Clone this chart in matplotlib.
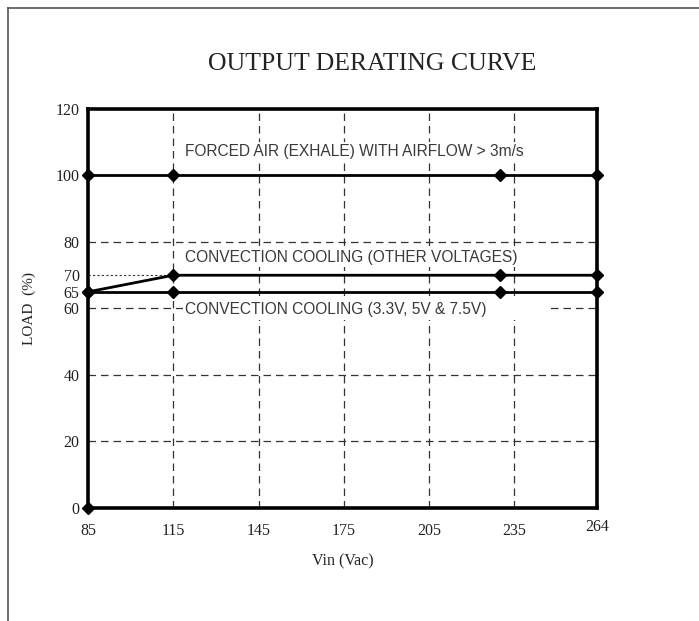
import matplotlib
matplotlib.use("Agg")
import matplotlib.pyplot as plt
import matplotlib.transforms as mtransforms
from matplotlib.lines import Line2D
from matplotlib.patches import Rectangle

# données
vin_ticks = [85, 115, 145, 175, 205, 235, 264]
load_ticks = [0, 20, 40, 60, 65, 70, 80, 100, 120]

forced_vin = [85, 115, 230, 264]
forced_load = [100, 100, 100, 100]

other_vin = [85, 115, 230, 264]
other_load = [65, 70, 70, 70]

low_vin = [85, 115, 230, 264]
low_load = [65, 65, 65, 65]

zero_vin = [85]
zero_load = [0]

grid_x = [115, 145, 175, 205, 235]
grid_y = [20, 40, 60, 80]

fig = plt.figure(figsize=(6.99, 6.21), dpi=100)
ax = fig.add_axes([0.1259, 0.182, 0.728, 0.6425])

serif = "Liberation Serif"
sans = "Liberation Sans"
dash = (0, (6, 4))

# cadre extérieur (haut + gauche)
fig.add_artist(Line2D([8 / 699, 1.0], [1 - 8 / 621, 1 - 8 / 621], color="#555555", lw=1.2))
fig.add_artist(Line2D([8 / 699, 8 / 699], [0, 1 - 8 / 621], color="#555555", lw=1.2))

for gx in grid_x:
    ax.axvline(gx, color="#333333", lw=0.9, linestyle=dash, zorder=1)
for gy in grid_y:
    ax.axhline(gy, color="#333333", lw=0.9, linestyle=dash, zorder=1)

# pointillé 70 % entre 85 et 115
ax.plot([85, 115], [70, 70], color="#333333", lw=0.8, linestyle=(0, (2, 2)), zorder=1)

# cache blanc sous le texte du bas
ax.add_patch(Rectangle((118.3, 56.5), 129.5, 6.6, facecolor="white", edgecolor="none", zorder=2))

line_kw = dict(color="black", lw=2.0, marker="D", markersize=6.5, zorder=4, clip_on=False)
ax.plot(forced_vin, forced_load, **line_kw)
ax.plot(other_vin, other_load, **line_kw)
ax.plot(low_vin, low_load, **line_kw)
ax.plot(zero_vin, zero_load, **line_kw)

txt_kw = dict(fontfamily=sans, fontsize=11.2, color="#3a3a3a", va="center", ha="left", zorder=3,
              bbox=dict(facecolor="white", edgecolor="none", pad=1.5))
ax.text(119, 107.2, "FORCED AIR (EXHALE) WITH AIRFLOW > 3m/s", **txt_kw)
ax.text(119, 75.4, "CONVECTION COOLING (OTHER VOLTAGES)", **txt_kw)
ax.text(119, 59.8, "CONVECTION COOLING (3.3V, 5V & 7.5V)", **txt_kw)

ax.set_xlim(85, 264)
ax.set_ylim(0, 120)
ax.set_xticks(vin_ticks)
ax.set_xticklabels([str(v) for v in vin_ticks])
ax.set_yticks(load_ticks)
ax.set_yticklabels([str(v) for v in load_ticks])
ax.tick_params(axis="both", length=0, labelsize=11.5, colors="#222222")
ax.tick_params(axis="x", pad=11)
ax.tick_params(axis="y", pad=6)
for lab in ax.get_xticklabels() + ax.get_yticklabels():
    lab.set_fontfamily(serif)

# le 264 est un peu plus haut sur l'original
last = ax.get_xticklabels()[-1]
last.set_transform(last.get_transform() + mtransforms.ScaledTranslation(0, 4 / 100, fig.dpi_scale_trans))

for sp in ax.spines.values():
    sp.set_linewidth(2.6)
    sp.set_color("black")

ax.set_xlabel("Vin (Vac)", fontfamily=serif, fontsize=11.5, color="#222222", labelpad=10)
ax.set_ylabel("LOAD  (%)", fontfamily=serif, fontsize=11, color="#222222", labelpad=14)

fig.text(0.533, 0.897, "OUTPUT DERATING CURVE", fontfamily=serif, fontsize=18.5,
         ha="center", va="center", color="#222222")

fig.savefig("out.png", dpi=100, facecolor="white")
